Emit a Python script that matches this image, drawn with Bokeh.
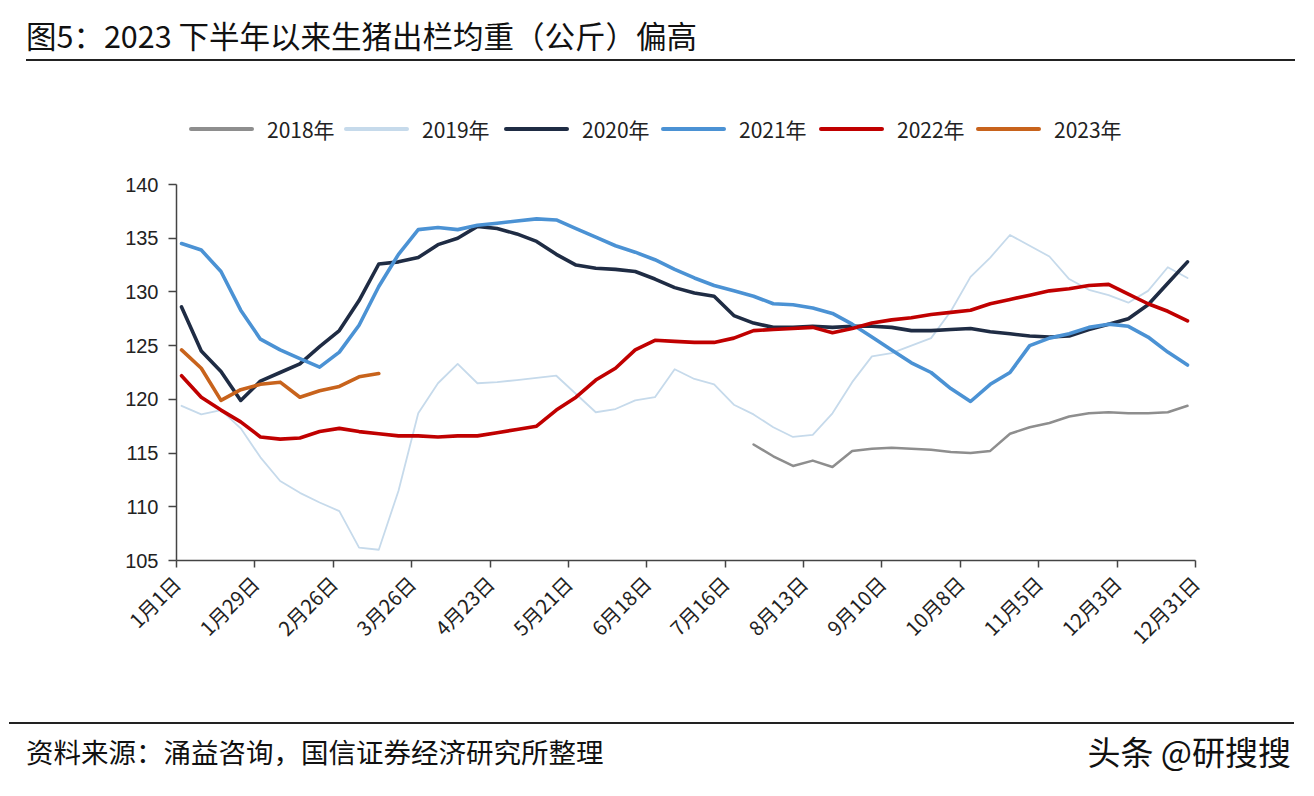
import math
from bokeh.plotting import figure
from bokeh.models import Range1d, FixedTicker, Div
from bokeh.layouts import column
from bokeh.embed import file_html
from bokeh.resources import INLINE

# ---- data ----
week_idx = list(range(52))
day_pos = [1.8 + 7.046 * k for k in week_idx]

tick_days = [0, 28, 56, 84, 112, 140, 168, 196, 224, 252, 280, 308, 336, 364]
tick_labels = ["1月1日", "1月29日", "2月26日", "3月26日", "4月23日", "5月21日", "6月18日",
               "7月16日", "8月13日", "9月10日", "10月8日", "11月5日", "12月3日", "12月31日"]
y_ticks = [105, 110, 115, 120, 125, 130, 135, 140]

start_2018 = 29
y2018 = [115.8, 114.7, 113.8, 114.3, 113.7, 115.2, 115.4, 115.5, 115.4, 115.3, 115.1, 115.0,
         115.2, 116.8, 117.4, 117.8, 118.4, 118.7, 118.8, 118.7, 118.7, 118.8, 119.4]
y2019 = [119.4, 118.6, 119.0, 117.3, 114.6, 112.4, 111.3, 110.4, 109.6, 106.2, 106.0, 111.5,
         118.7, 121.5, 123.3, 121.5, 121.6, 121.8, 122.0, 122.2, 120.5, 118.8, 119.1, 119.9,
         120.2, 122.8, 121.9, 121.4, 119.5, 118.6, 117.4, 116.5, 116.7, 118.7, 121.6, 124.0,
         124.3, 125.0, 125.7, 128.2, 131.4, 133.2, 135.3, 134.3, 133.3, 131.2, 130.2, 129.7,
         129.0, 130.1, 132.3, 131.3]
y2020 = [128.6, 124.5, 122.6, 119.9, 121.7, 122.5, 123.3, 124.9, 126.4, 129.2, 132.6, 132.8,
         133.2, 134.4, 135.0, 136.1, 135.9, 135.4, 134.7, 133.5, 132.5, 132.2, 132.1, 131.9,
         131.2, 130.4, 129.9, 129.6, 127.8, 127.1, 126.7, 126.7, 126.8, 126.7, 126.8, 126.8,
         126.7, 126.4, 126.4, 126.5, 126.6, 126.3, 126.1, 125.9, 125.8, 125.9, 126.5, 127.0,
         127.5, 128.8, 130.8, 132.8]
y2021 = [134.5, 133.9, 131.9, 128.3, 125.6, 124.6, 123.8, 123.0, 124.4, 126.9, 130.5, 133.5,
         135.8, 136.0, 135.8, 136.2, 136.4, 136.6, 136.8, 136.7, 135.9, 135.1, 134.3, 133.7,
         133.0, 132.1, 131.3, 130.6, 130.1, 129.6, 128.9, 128.8, 128.5, 128.0, 127.0, 125.8,
         124.6, 123.4, 122.5, 121.0, 119.8, 121.4, 122.5, 125.0, 125.7, 126.1, 126.7, 127.0,
         126.8, 125.8, 124.4, 123.2]
y2022 = [122.2, 120.2, 119.0, 117.9, 116.5, 116.3, 116.4, 117.0, 117.3, 117.0, 116.8, 116.6,
         116.6, 116.5, 116.6, 116.6, 116.9, 117.2, 117.5, 119.0, 120.2, 121.8, 122.9, 124.6,
         125.5, 125.4, 125.3, 125.3, 125.7, 126.4, 126.5, 126.6, 126.7, 126.2, 126.6, 127.1,
         127.4, 127.6, 127.9, 128.1, 128.3, 128.9, 129.3, 129.7, 130.1, 130.3, 130.6, 130.7,
         129.8, 128.9, 128.2, 127.3]
y2023 = [124.6, 122.9, 119.9, 120.9, 121.4, 121.6, 120.2, 120.8, 121.2, 122.1, 122.4]

series_names = ["2018年", "2019年", "2020年", "2021年", "2022年", "2023年"]
series_colors = ["#8e8e8e", "#c6daeb", "#1f2c44", "#4b92d4", "#c00000", "#c8631c"]
series_widths = [2.5, 1.8, 3.6, 3.6, 3.6, 3.6]

FONT = "Noto Sans CJK SC"

# ---- figure ----
p = figure(width=1298, height=554, x_range=Range1d(0, 364), y_range=Range1d(105, 140),
           output_backend="svg", toolbar_location=None,
           min_border_left=176, min_border_right=103, min_border_top=24, min_border_bottom=154)
p.outline_line_color = None
p.background_fill_color = "white"
p.border_fill_color = "white"
p.xgrid.visible = False
p.ygrid.visible = False

p.xaxis.ticker = FixedTicker(ticks=tick_days)
p.xaxis.major_label_overrides = {d: l for d, l in zip(tick_days, tick_labels)}
p.xaxis.major_label_orientation = math.pi / 4
p.xaxis.major_label_text_font = FONT
p.xaxis.major_label_text_font_size = "20px"
p.xaxis.major_label_text_color = "#222222"
p.xaxis.major_tick_out = 7
p.xaxis.major_tick_in = 0
p.xaxis.minor_tick_line_color = None
p.xaxis.axis_line_color = "#444444"
p.xaxis.axis_line_width = 1.5
p.xaxis.major_tick_line_color = "#444444"
p.xaxis.major_tick_line_width = 1.5
p.xaxis.major_label_standoff = 12

p.yaxis.ticker = FixedTicker(ticks=y_ticks)
p.yaxis.major_label_text_font = "Liberation Sans"
p.yaxis.major_label_text_font_size = "20px"
p.yaxis.major_label_text_color = "#222222"
p.yaxis.major_tick_out = 8
p.yaxis.major_tick_in = 0
p.yaxis.minor_tick_line_color = None
p.yaxis.axis_line_color = "#444444"
p.yaxis.axis_line_width = 1.5
p.yaxis.major_tick_line_color = "#444444"
p.yaxis.major_tick_line_width = 1.5
p.yaxis.major_label_standoff = 10

xs_all = [day_pos[start_2018:start_2018 + len(y2018)], day_pos, day_pos, day_pos, day_pos,
          day_pos[:len(y2023)]]
ys_all = [y2018, y2019, y2020, y2021, y2022, y2023]

draw_order = [1, 0, 2, 3, 4, 5]
for i in draw_order:
    p.line(xs_all[i], ys_all[i], line_color=series_colors[i], line_width=series_widths[i],
           line_join="round", line_cap="round")

# ---- header: title, rule and legend (HTML) ----
legend_starts = [184, 339, 499, 656, 814, 971]   # line-sample left edges inside the header
legend_parts = []
for name, color, lx in zip(series_names, series_colors, legend_starts):
    legend_parts.append(
        f'<div style="position:absolute;left:{lx}px;top:122px;width:65px;height:4px;'
        f'background:{color};border-radius:2px;"></div>'
        f'<div style="position:absolute;left:{lx + 78}px;top:111px;font-size:21px;line-height:26px;'
        f"font-family:'Noto Sans CJK SC';color:#222;white-space:nowrap;\">{name}</div>"
    )

header_html = (
    '<div style="position:relative;width:1298px;height:150px;background:white;">'
    '<div style="position:absolute;left:21px;top:12px;font-size:30.5px;line-height:36px;'
    "font-family:'Noto Sans CJK SC';color:#111;white-space:nowrap;\">"
    '图5：2023 下半年以来生猪出栏均重（公斤）偏高</div>'
    '<div style="position:absolute;left:21px;top:54px;width:1269px;height:2px;background:#222;"></div>'
    + ''.join(legend_parts) +
    '</div>'
)
footer_html = (
    '<div style="position:relative;width:1298px;height:76px;background:white;">'
    '<div style="position:absolute;left:4px;top:3px;width:1285px;height:2px;background:#222;"></div>'
    '<div style="position:absolute;left:21px;top:16px;font-size:27.5px;line-height:32px;'
    "font-family:'Noto Sans CJK SC';color:#111;white-space:nowrap;\">"
    '资料来源：涌益咨询，国信证券经济研究所整理</div>'
    '<div style="position:absolute;right:12px;top:13px;font-size:33px;line-height:38px;'
    "font-family:'Noto Sans CJK SC';color:#111;white-space:nowrap;\">"
    '头条 @研搜搜</div>'
    '</div>'
)
header_div = Div(text=header_html, width=1298, height=150)
footer_div = Div(text=footer_html, width=1298, height=76)

layout = column(header_div, p, footer_div, spacing=0)

open("out.html", "w").write(file_html(layout, INLINE))
